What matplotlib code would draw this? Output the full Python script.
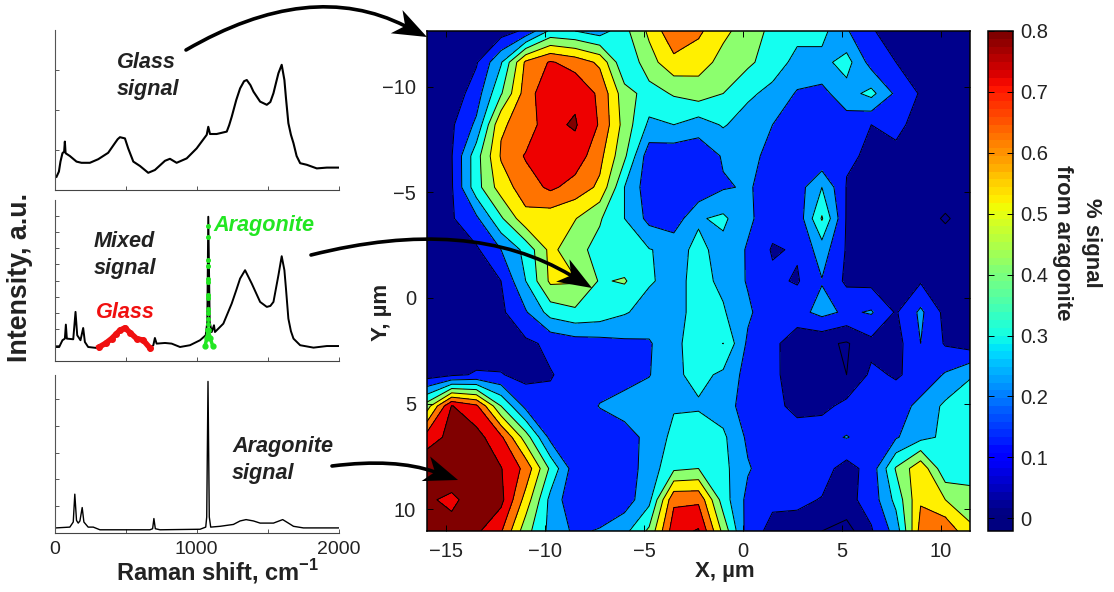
# contour map of aragonite signal with three raman spectra on the left
import numpy as np
import matplotlib
matplotlib.use('Agg')
import matplotlib.pyplot as plt
from matplotlib.cm import ScalarMappable
from matplotlib.colors import Normalize, ListedColormap
from matplotlib.path import Path
from matplotlib.patches import PathPatch, Polygon

plt.rcParams['font.family'] = ['Liberation Sans', 'DejaVu Sans']
plt.rcParams['mathtext.fontset'] = 'custom'
plt.rcParams['mathtext.bf'] = 'Liberation Sans:bold'
plt.rcParams['axes.unicode_minus'] = True

# spectra
glass_x = [14, 31, 42, 56, 68, 73, 78, 108, 155, 190, 249, 308, 378, 425, 445, 461, 496, 519, 555, 602, 660, 707, 778,
           813, 860, 931, 1001, 1072, 1083, 1095, 1142, 1213, 1230, 1248, 1280, 1307, 1335, 1354, 1380, 1401, 1448, 1495,
           1520, 1542, 1560, 1577, 1600, 1619, 1630, 1647, 1665, 1683, 1705, 1730, 1777, 1847, 1918, 2000]
glass_y = [.33, .46, .71, .92, .96, 1.21, .92, .85, .71, .68, .68, .77, .93, 1.17, 1.27, 1.32, 1.29, 1.04, .71, .60, .43,
           .5, .73, .78, .68, .79, 1.04, 1.38, 1.58, 1.40, 1.40, 1.46, 1.62, 1.83, 2.25, 2.54, 2.72, 2.75, 2.62, 2.46, 2.21,
           2.13, 2.2, 2.42, 2.68, 2.92, 3.13, 2.75, 2.3, 1.67, 1.38, 1.17, .85, .67, .63, .54, .56, .56]

mixed_x = [14, 33, 56, 73, 80, 87, 132, 148, 160, 183, 202, 214, 237, 296, 320, 402, 461, 496, 531, 578, 625, 672,
           696, 707, 719, 778, 825, 884, 954, 1025, 1065, 1076, 1083, 1093, 1107, 1123, 1130, 1189, 1248, 1280, 1307,
           1342, 1389, 1448, 1495, 1520, 1542, 1577, 1600, 1619, 1630, 1647, 1665, 1683, 1730, 1824, 1918, 2000]
mixed_y = [.87, .87, 1.29, 1.39, 2.26, 1.39, 1.35, 3.05, 1.6, 1.29, 2.05, 1.18, .87, .81, .87, 1.39, 2.01, 2.12,
           1.8, 1.39, 1.29, .81, .98, 1.43, 1.08, 1.12, 1.08, .87, .98, 1.29, 1.6, 2.43, 8.96, 2.43, 1.8, 2.22,
           1.8, 2.32, 3.57, 4.4, 5.12, 5.64, 4.81, 3.67, 3.36, 3.42, 3.67, 5.33, 6.51, 5.64, 4.5, 2.63, 1.85, 1.39, .98,
           .83, .93, .93]

glass_part_x = [315, 360, 402, 435, 461, 496, 531, 578, 625, 672]
glass_part_y = [.87, 1.1, 1.39, 1.68, 1.91, 2.06, 1.77, 1.39, 1.29, .81]

arag_dots_x = [1083] * 12
arag_dots_y = [2.3, 2.6, 3.0, 3.2, 3.9, 4.1, 4.9, 5.1, 5.9, 6.3, 7.7, 8.4]
arag_left_x = [1060, 1072, 1083]
arag_left_y = [.93, 1.4, 1.9]
arag_right_x = [1083, 1098, 1114]
arag_right_y = [1.9, 1.4, .93]

arag_x = [9, 108, 132, 143, 155, 167, 179, 195, 207, 237, 273, 320, 672, 691, 700, 710, 743, 1025, 1065, 1072, 1081,
          1090, 1100, 1166, 1260, 1307, 1349, 1401, 1448, 1542, 1607, 1647, 1683, 1753, 2000]
arag_y = [.19, .22, .41, 1.45, .47, .37, .45, .95, .41, .22, .22, .12, .12, .16, .54, .16, .12, .14, .22, .6, 5.66,
          .6, .22, .25, .32, .45, .5, .45, .37, .37, .5, .37, .25, .19, .19]

# map values, one row per scan line from the top of the map
z_rows = [
    [.02, .02, .03, .05, .12, .32, .30, .25, .37, .52, .68, .62, .52, .46, .37, .33, .33, .21, .11, .05, .03, .02, .02],
    [.02, .03, .09, .29, .62, .71, .66, .58, .31, .46, .57, .54, .47, .42, .35, .27, .27, .34, .16, .10, .05, .03, .02],
    [.02, .04, .15, .39, .65, .78, .78, .68, .44, .36, .41, .45, .40, .32, .27, .19, .17, .26, .33, .18, .09, .05, .03],
    [.02, .085, .22, .59, .63, .78, .81, .69, .46, .28, .30, .25, .31, .25, .20, .15, .15, .15, .10, .12, .07, .05, .03],
    [.02, .095, .36, .61, .71, .75, .76, .63, .42, .14, .13, .13, .21, .23, .17, .16, .11, .11, .09, .08, .07, .06, .03],
    [.02, .09, .36, .55, .65, .72, .66, .58, .30, .14, .12, .12, .19, .21, .16, .15, .30, .095, .07, .06, .05, .05, .04],
    [.02, .09, .18, .385, .57, .54, .505, .41, .30, .17, .14, .29, .32, .22, .14, .13, .41, .09, .07, .05, .04, -.01, .04],
    [.02, .04, .085, .20, .33, .53, .43, .37, .32, .305, .27, .32, .27, .19, .09, .11, .25, .09, .07, .06, .05, .05, .04],
    [.02, .03, .05, .10, .30, .52, .51, .39, .41, .31, .27, .33, .28, .19, .12, .09, .195, .08, .07, .05, .09, .05, .03],
    [.02, .03, .05, .08, .19, .34, .38, .36, .31, .26, .27, .33, .31, .22, .12, .167, .23, .183, .21, .09, .22, .07, .03],
    [.02, .03, .04, .05, .08, .12, .15, .16, .18, .19, .27, .36, .401, .18, .13, .03, .02, -.01, .07, .06, .20, .09, .05],
    [.05, .08, .11, .105, .07, .095, .13, .15, .17, .195, .28, .33, .28, .16, .14, .01, .02, .0, .12, .09, .13, .21, .29],
    [.45, .805, .72, .40, .17, .12, .13, .205, .23, .26, .29, .288, .25, .15, .13, .07, .07, .13, .14, .15, .23, .32, .36],
    [.75, .83, .84, .72, .45, .17, .12, .13, .17, .22, .33, .36, .32, .18, .14, .15, .17, .205, .16, .19, .27, .32, .36],
    [.88, .90, .88, .805, .67, .38, .14, .12, .15, .24, .38, .40, .33, .21, .14, .12, .14, .06, .14, .41, .575, .32, .34],
    [.82, .77, .87, .83, .56, .27, .12, .11, .15, .27, .68, .68, .35, .17, .12, .12, .095, .07, .14, .33, .59, .50, .45],
    [.87, .85, .82, .71, .44, .27, .18, .21, .27, .42, .76, .81, .47, .15, .07, .06, .0, -.04, .09, .24, .64, .68, .52],
]
levels = [0, .1, .2, .3, .4, .5, .6, .7, .8]
fill_colors = ['#00008c', '#001eff', '#00a0ff', '#14fff0', '#8cff6e', '#fff000', '#ff7300', '#ee0000', '#800000']
map_xticks = [-15, -10, -5, 0, 5, 10]
map_yticks = [-10, -5, 0, 5, 10]
bar_ticks = [0, .1, .2, .3, .4, .5, .6, .7, .8]

W, H = 1114, 592
dark = '#222222'
green = '#22e622'
red = '#f01010'
fig = plt.figure(figsize=(W / 100, H / 100), dpi=100)


def px_axes(left, top, right, bottom):
    return fig.add_axes([left / W, 1 - bottom / H, (right - left) / W, (bottom - top) / H])


# left column of spectra
ax1 = px_axes(54.5, 30, 338.5, 190)
ax1.plot(glass_x, glass_y, color='k', lw=1.5)
ax1.set_ylim(0, 4)
ax1.set_yticks([1, 2, 3])

ax2 = px_axes(54.5, 200, 338.5, 361)
ax2.plot(mixed_x, mixed_y, color='k', lw=1.4)
ax2.plot(glass_part_x, glass_part_y, color=red, lw=4, marker='o', ms=4)
ax2.plot(arag_dots_x, arag_dots_y, color=green, lw=0, marker='o', ms=2.6)
ax2.plot(arag_left_x, arag_left_y, color=green, lw=2.5, marker='o', ms=3.5)
ax2.plot(arag_right_x, arag_right_y, color=green, lw=2.5, marker='o', ms=3.5)
ax2.set_ylim(0, 10)
ax2.set_yticks(range(1, 10))

ax3 = px_axes(54.5, 375, 338.5, 533)
ax3.plot(arag_x, arag_y, color='k', lw=1)
ax3.set_ylim(0, 5.9)
ax3.set_yticks(range(1, 6))

for ax in (ax1, ax2, ax3):
    ax.set_xlim(0, 2000)
    ax.set_xticks([0, 500, 1000, 1500, 2000])
    ax.spines['top'].set_visible(False)
    ax.spines['right'].set_visible(False)
    ax.spines['left'].set_color('#555555')
    ax.spines['bottom'].set_color('#444444')
    ax.tick_params(direction='in', length=3, width=0.7, color='#555555',
                   labelleft=False, labelbottom=False)
ax3.set_xticks([0, 500, 1000, 1500, 2000], ['0', '', '1000', '', '2000'])
ax3.tick_params(labelbottom=True, labelsize=14, pad=6, labelcolor=dark)

# contour map
x_grid = np.linspace(-15.96, 11.46, 23)
y_grid = np.linspace(-12.65, 11.04, 17)
z = np.array(z_rows)

ax_map = px_axes(427, 31, 970, 531)
ax_map.contourf(x_grid, y_grid, z, levels=levels[1:], extend='both', colors=fill_colors)
ax_map.contour(x_grid, y_grid, z, levels=levels, colors='k', linewidths=0.7, linestyles='solid')
ax_map.set_xlim(x_grid[0], x_grid[-1])
ax_map.set_ylim(y_grid[-1], y_grid[0])
ax_map.set_xticks(map_xticks)
ax_map.set_yticks(map_yticks)
ax_map.tick_params(direction='in', top=True, right=True, length=4, width=0.7,
                   labelsize=14.5, labelcolor=dark, pad=8)
for s in ax_map.spines.values():
    s.set_linewidth(1.1)

# colorbar, jet runs 0 to 0.8 and the bar goes a little below 0
cax = px_axes(988, 31, 1013, 531)
jet = plt.get_cmap('jet')
norm = Normalize(0, 0.8)
bar_norm = Normalize(-0.021, 0.8)
bar_cmap = ListedColormap([jet(norm(v)) for v in np.linspace(-0.021, 0.8, 64)])
cb = fig.colorbar(ScalarMappable(norm=bar_norm, cmap=bar_cmap), cax=cax, ticks=bar_ticks)
cb.ax.set_yticklabels(['0', '0.1', '0.2', '0.3', '0.4', '0.5', '0.6', '0.7', '0.8'])
cb.ax.tick_params(direction='in', left=True, right=True, length=4, width=0.7,
                  labelsize=14.5, labelcolor=dark, pad=5)
cb.outline.set_linewidth(1.1)

# overlay in pixel coordinates for labels and arrows
over = fig.add_axes([0, 0, 1, 1], zorder=10)
over.set_xlim(0, W)
over.set_ylim(H, 0)
over.axis('off')


def curved_arrow(p0, c, tip, length=34, width=13):
    p0, c, tip = np.array(p0, float), np.array(c, float), np.array(tip, float)
    d = (tip - c) / np.linalg.norm(tip - c)
    n = np.array([-d[1], d[0]])
    notch = tip - 0.72 * length * d
    over.add_patch(PathPatch(Path([p0, c, notch], [Path.MOVETO, Path.CURVE3, Path.CURVE3]),
                             fc='none', ec='k', lw=2.6, capstyle='round'))
    over.add_patch(Polygon([tip, tip - length * d + width * n, notch, tip - length * d - width * n],
                           closed=True, fc='k', ec='none'))


curved_arrow((186, 50), (310, -22), (427, 37))
curved_arrow((311, 255), (470, 215), (592, 288))
curved_arrow((332, 466), (395, 458), (458, 480))

note = dict(fontsize=15.6, fontweight='bold', fontstyle='italic', ha='left', va='center', linespacing=1.32)
over.text(117, 76, 'Glass\nsignal', color=dark, **note)
over.text(94, 255, 'Mixed\nsignal', color=dark, **note)
over.text(232, 460, 'Aragonite\nsignal', color=dark, **note)
over.text(96, 313, 'Glass', color=red, **note)
over.text(213, 226, 'Aragonite', color=green, **note)

over.text(20, 277, 'Intensity, a.u.', rotation=90, fontsize=19.3, fontweight='bold',
          color=dark, ha='center', va='center')
over.text(218, 572, r'Raman shift, cm$^{\mathbf{-1}}$', fontsize=17, fontweight='bold',
          color=dark, ha='center', va='center')
over.text(725, 571, 'X, µm', fontsize=16, fontweight='bold', color=dark, ha='center', va='center')
over.text(382, 312, 'Y, µm', rotation=90, fontsize=16, fontweight='bold', color=dark, ha='center', va='center')
over.text(1077, 243, '% signal\nfrom aragonite', rotation=-90, fontsize=16, fontweight='bold',
          color=dark, ha='center', va='center', linespacing=1.55, multialignment='center')

fig.savefig('out.png', dpi=100)
